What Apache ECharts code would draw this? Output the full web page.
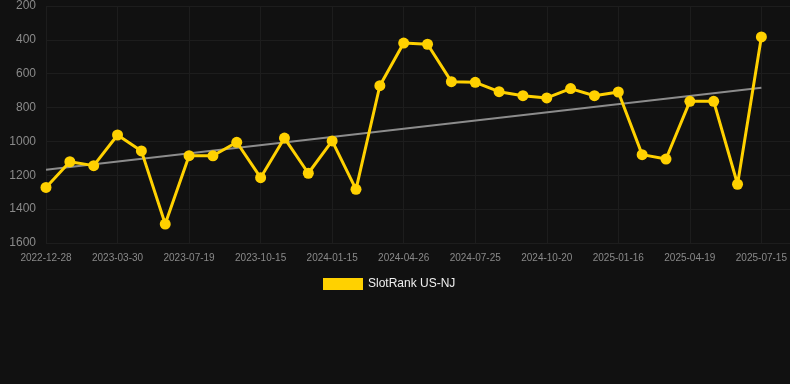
<!DOCTYPE html>
<html>
<head>
<meta charset="utf-8">
<script src="https://cdn.jsdelivr.net/npm/echarts@6/dist/echarts.min.js"></script>
<style>
html, body { margin: 0; padding: 0; background: #111111; }
#chart { width: 790px; height: 384px; }
</style>
</head>
<body>
<div id="chart"></div>
<script>
// dates for each point (only every third one is shown on the axis)
var dates = [
    '2022-12-28', '2023-01-27', '2023-02-28', '2023-03-30', '2023-05-06', '2023-06-12',
    '2023-07-19', '2023-08-17', '2023-09-15', '2023-10-15', '2023-11-15', '2023-12-15',
    '2024-01-15', '2024-02-18', '2024-03-23', '2024-04-26', '2024-05-26', '2024-06-25',
    '2024-07-25', '2024-08-24', '2024-09-21', '2024-10-20', '2024-11-18', '2024-12-17',
    '2025-01-16', '2025-02-16', '2025-03-19', '2025-04-19', '2025-05-18', '2025-06-16',
    '2025-07-15'
];
var ranks = [
    1272, 1120, 1143, 962, 1056, 1488,
    1084, 1085, 1005, 1214, 980, 1188,
    997, 1283, 671, 419, 426, 647,
    651, 706, 730, 743, 688, 730,
    708, 1078, 1104, 763, 763, 1253,
    383
];
// trend line end points (first and last date)
var trendIdx = [0, 30];
var trendVals = [1167, 683];
var yTicks = [200, 400, 600, 800, 1000, 1200, 1400, 1600];

function drawRank() {
    var dom = document.getElementById('chart');
    var myChart = echarts.init(dom);

    var lineData = ranks.map(function (v, i) {
        return [i, v];
    });
    var trendData = trendIdx.map(function (x, i) {
        return [x, trendVals[i]];
    });

    var option = {
        backgroundColor: '#111111',
        animation: false,
        grid: {
            left: 46,
            right: 0,
            top: 6,
            bottom: 141
        },
        legend: {
            data: [{name: 'SlotRank US-NJ', icon: 'rect'}],
            left: 318,
            top: 273,
            itemWidth: 40,
            itemHeight: 12,
            itemGap: 10,
            textStyle: {
                color: '#f0f0f0',
                fontSize: 12,
                fontFamily: 'Arial, Liberation Sans, sans-serif'
            }
        },
        xAxis: {
            type: 'value',
            min: 0,
            max: 31.2,
            interval: 3,
            axisLine: {show: false},
            axisTick: {show: false},
            splitLine: {
                show: true,
                lineStyle: {color: '#1d1d1d', width: 1}
            },
            axisLabel: {
                color: '#8a8a8a',
                fontSize: 10,
                margin: 10,
                showMaxLabel: false,
                fontFamily: 'Arial, Liberation Sans, sans-serif',
                formatter: function (v) {
                    return dates[v] || '';
                }
            }
        },
        yAxis: {
            type: 'value',
            inverse: true,
            min: yTicks[0],
            max: yTicks[yTicks.length - 1],
            interval: 200,
            axisLine: {show: false},
            axisTick: {show: false},
            splitLine: {
                show: true,
                lineStyle: {color: '#1d1d1d', width: 1}
            },
            axisLabel: {
                color: '#8a8a8a',
                fontSize: 12,
                margin: 10,
                fontFamily: 'Arial, Liberation Sans, sans-serif',
                formatter: function (v) {
                    return String(v);
                }
            }
        },
        series: [
            {
                name: 'trend',
                type: 'line',
                data: trendData,
                symbol: 'none',
                silent: true,
                lineStyle: {color: '#8c8c8c', width: 2},
                z: 1
            },
            {
                name: 'SlotRank US-NJ',
                type: 'line',
                data: lineData,
                symbol: 'circle',
                symbolSize: 11,
                itemStyle: {color: '#ffd100'},
                lineStyle: {color: '#ffd100', width: 3},
                z: 2
            }
        ]
    };
    if (option && typeof option === "object") {
        myChart.setOption(option, true);
    }
}
drawRank();
</script>
</body>
</html>
